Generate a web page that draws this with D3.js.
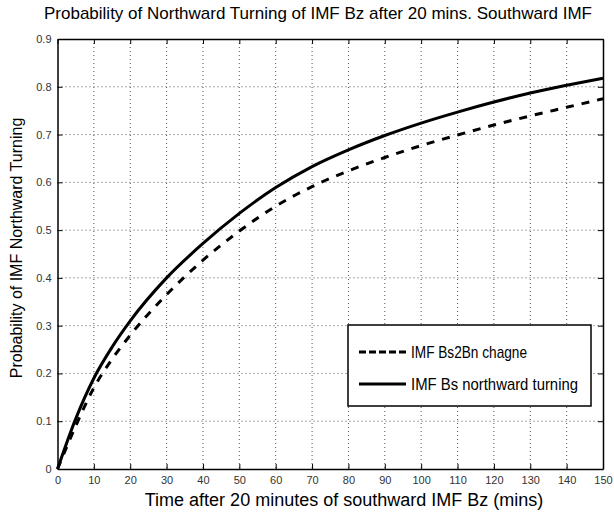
<!DOCTYPE html>
<html>
<head>
<meta charset="utf-8">
<script src="https://cdn.jsdelivr.net/npm/d3@7"></script>
<style>
  body { margin: 0; background: #fff; }
  svg { display: block; }
</style>
</head>
<body>
<div id="chart"></div>
<script>
// time after 20 minutes of southward IMF Bz (mins)
var times = [0, 5, 10, 15, 20, 30, 40, 50, 60, 70, 80, 90, 100, 110, 120, 130, 140, 150];
// IMF Bs2Bn change (dashed)
var bs2bn = [0, 0.09, 0.17, 0.23, 0.28, 0.365, 0.437, 0.498, 0.550, 0.591, 0.624, 0.652, 0.677, 0.699, 0.72, 0.739, 0.757, 0.775];
// IMF Bs northward turning (solid)
var bsNorth = [0, 0.105, 0.19, 0.255, 0.31, 0.40, 0.472, 0.535, 0.589, 0.633, 0.668, 0.698, 0.724, 0.747, 0.768, 0.787, 0.803, 0.818];

var xTicks = d3.range(0, 151, 10);
var yTicks = [0, 0.1, 0.2, 0.3, 0.4, 0.5, 0.6, 0.7, 0.8, 0.9];
var seriesNames = ["IMF Bs2Bn chagne", "IMF Bs northward turning"];

var margin = {top: 39, right: 11, bottom: 48, left: 57.5},
    W = 614, H = 517,
    width = W - margin.left - margin.right,
    height = H - margin.top - margin.bottom;

var svg = d3.select("#chart")
  .append("svg")
    .attr("width", W)
    .attr("height", H);

var g = svg.append("g")
    .attr("transform", "translate(" + margin.left + "," + margin.top + ")");

var x = d3.scaleLinear().domain([0, 150]).range([0, width]);
var y = d3.scaleLinear().domain([0, 0.9]).range([height, 0]);

// dotted grid
g.selectAll("xgrid")
  .data(xTicks.slice(1, -1))
  .enter()
  .append("line")
    .attr("x1", function(d) { return x(d); })
    .attr("x2", function(d) { return x(d); })
    .attr("y1", 0)
    .attr("y2", height)
    .attr("stroke", "#555")
    .attr("stroke-width", 1)
    .attr("stroke-dasharray", "1,3");

g.selectAll("ygrid")
  .data(yTicks.slice(1, -1))
  .enter()
  .append("line")
    .attr("x1", 0)
    .attr("x2", width)
    .attr("y1", function(d) { return y(d); })
    .attr("y2", function(d) { return y(d); })
    .attr("stroke", "#555")
    .attr("stroke-width", 1)
    .attr("stroke-dasharray", "1,3");

// axes, ticks pointing inward (matlab style)
var fmt = function(d) { return d === 0 ? "0" : d3.format(".1f")(d); };

var xAxis = g.append("g")
    .attr("transform", "translate(0," + height + ")")
    .call(d3.axisBottom(x).tickValues(xTicks).tickSizeInner(-5).tickSizeOuter(0).tickPadding(7));
var yAxis = g.append("g")
    .call(d3.axisLeft(y).tickValues(yTicks).tickFormat(fmt).tickSizeInner(-5).tickSizeOuter(0).tickPadding(6));
var xTop = g.append("g")
    .call(d3.axisTop(x).tickValues(xTicks).tickSizeInner(-5).tickSizeOuter(0).tickFormat(""));
var yRight = g.append("g")
    .attr("transform", "translate(" + width + ",0)")
    .call(d3.axisRight(y).tickValues(yTicks).tickSizeInner(-5).tickSizeOuter(0).tickFormat(""));

[xAxis, yAxis, xTop, yRight].forEach(function(a) {
  a.select(".domain").attr("stroke", "#000").attr("stroke-width", 1.5);
  a.selectAll(".tick line").attr("stroke", "#000");
  a.selectAll(".tick text")
    .attr("fill", "#333")
    .style("font-family", "'Liberation Sans', Arial, sans-serif")
    .style("font-size", "11px");
});

// curves
var line = d3.line()
    .x(function(d) { return x(d[0]); })
    .y(function(d) { return y(d[1]); })
    .curve(d3.curveMonotoneX);

g.append("path")
    .datum(d3.zip(times, bs2bn))
    .attr("d", line)
    .attr("fill", "none")
    .attr("stroke", "#000")
    .attr("stroke-width", 3)
    .attr("stroke-dasharray", "8,8");

g.append("path")
    .datum(d3.zip(times, bsNorth))
    .attr("d", line)
    .attr("fill", "none")
    .attr("stroke", "#000")
    .attr("stroke-width", 3);

// legend
var legend = svg.append("g").attr("transform", "translate(348,325)");
legend.append("rect")
    .attr("width", 243)
    .attr("height", 81)
    .attr("fill", "#fff")
    .attr("stroke", "#000")
    .attr("stroke-width", 1.5);

var lg = legend.selectAll("item")
    .data(seriesNames)
    .enter()
    .append("g")
    .attr("transform", function(d, i) { return "translate(0," + (27 + i * 32) + ")"; });

lg.append("line")
    .attr("x1", 11)
    .attr("x2", 58)
    .attr("stroke", "#000")
    .attr("stroke-width", 3)
    .attr("stroke-dasharray", function(d, i) { return i === 0 ? "7,3" : null; });

// the original legend font is very condensed, squeeze to its width
lg.append("text")
    .attr("x", 63)
    .attr("y", 6)
    .attr("textLength", function(d, i) { return i === 0 ? 116 : 167; })
    .attr("lengthAdjust", "spacingAndGlyphs")
    .style("font-family", "'Liberation Sans', Arial, sans-serif")
    .style("font-size", "17px")
    .text(function(d) { return d; });

// title and labels
svg.append("text")
    .attr("x", 318)
    .attr("y", 19)
    .attr("text-anchor", "middle")
    .style("font-family", "'Liberation Sans', Arial, sans-serif")
    .style("font-size", "17px")
    .text("Probability of Northward Turning of IMF Bz after 20 mins. Southward IMF");

svg.append("text")
    .attr("x", 344)
    .attr("y", 506)
    .attr("text-anchor", "middle")
    .style("font-family", "'Liberation Sans', Arial, sans-serif")
    .style("font-size", "18px")
    .text("Time after 20 minutes of southward IMF Bz (mins)");

svg.append("text")
    .attr("transform", "translate(22,248)rotate(-90)")
    .attr("text-anchor", "middle")
    .style("font-family", "'Liberation Sans', Arial, sans-serif")
    .style("font-size", "16px")
    .text("Probability of IMF Northward Turning");
</script>
</body>
</html>
